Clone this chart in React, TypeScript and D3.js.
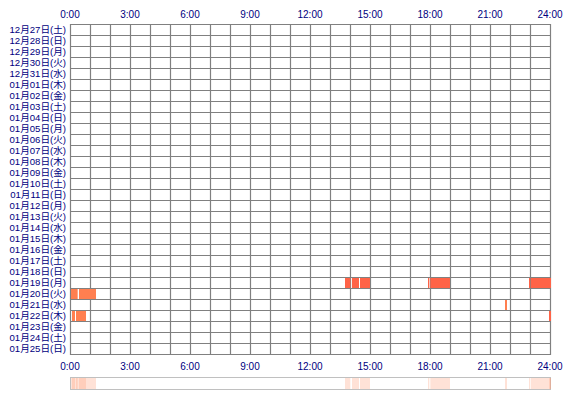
import React from "react";
import * as d3 from "d3";

const days = [
  "12月27日(土)", "12月28日(日)", "12月29日(月)", "12月30日(火)", "12月31日(水)",
  "01月01日(木)", "01月02日(金)", "01月03日(土)", "01月04日(日)", "01月05日(月)",
  "01月06日(火)", "01月07日(水)", "01月08日(木)", "01月09日(金)", "01月10日(土)",
  "01月11日(日)", "01月12日(月)", "01月13日(火)", "01月14日(水)", "01月15日(木)",
  "01月16日(金)", "01月17日(土)", "01月18日(日)", "01月19日(月)", "01月20日(火)",
  "01月21日(水)", "01月22日(木)", "01月23日(金)", "01月24日(土)", "01月25日(日)",
];

const hourTicks = [0, 3, 6, 9, 12, 15, 18, 21, 24];
const tickLabels = ["0:00", "3:00", "6:00", "9:00", "12:00", "15:00", "18:00", "21:00", "24:00"];

// sessions: day label, start, end, kind
const sessionDays = [
  "01月19日(月)", "01月19日(月)", "01月19日(月)", "01月19日(月)", "01月19日(月)",
  "01月19日(月)", "01月19日(月)",
  "01月20日(火)", "01月20日(火)",
  "01月21日(水)",
  "01月22日(木)", "01月22日(木)", "01月22日(木)",
];
const sessionStarts = [
  "13:42", "14:03", "14:27", "17:51", "17:58", "22:54", "23:00",
  "0:00", "0:24",
  "21:42",
  "0:03", "0:15", "23:54",
];
const sessionEnds = [
  "13:58", "14:24", "14:57", "17:55", "18:57", "22:58", "24:00",
  "0:20", "1:15",
  "21:48",
  "0:12", "0:45", "24:00",
];
const sessionKinds = [
  "a", "a", "a", "a", "a", "a", "a",
  "b", "b",
  "b",
  "b", "b", "a",
];

const toHours = (s: string) => {
  const [h, m] = s.split(":").map(Number);
  return h + m / 60;
};

export default function App() {
  const W = 570, H = 400;
  const left = 70, right = 550, top = 24, rowH = 11;
  const bottom = top + rowH * days.length;

  const x = d3.scaleLinear().domain([0, 24]).range([left, right]);
  const y = d3.scaleBand().domain(days).range([top, bottom]);

  const colorOf = (k: string) => (k === "a" ? "#ff6347" : "#ff7f50");
  const font = "'Liberation Sans', 'Noto Sans CJK JP', sans-serif";
  const textColor = "#000080";
  const gridColor = "#808080";

  const sessions = sessionDays.map((d, i) => ({
    day: d,
    s: toHours(sessionStarts[i]),
    e: toHours(sessionEnds[i]),
    k: sessionKinds[i],
  }));

  const hours = d3.range(0, 25);
  const stripTop = 377, stripH = 12;

  return (
    <svg width={W} height={H} style={{ position: "absolute", left: 0, top: 0, background: "#fff" }}>
      {/* top axis */}
      {hourTicks.map((h, i) => (
        <text key={"t" + h} x={x(h)} y={18} fontSize={10} fontFamily={font} fill={textColor} textAnchor="middle">
          {tickLabels[i]}
        </text>
      ))}
      {/* day labels */}
      {days.map((d) => (
        <text key={d} x={66} y={(y(d) as number) + rowH / 2 + 3.5} fontSize={9.6} fontFamily={font} fill={textColor} textAnchor="end">
          {d}
        </text>
      ))}
      {/* grid */}
      {hours.map((h) => (
        <line key={"v" + h} x1={x(h) + 0.5} x2={x(h) + 0.5} y1={top} y2={bottom + 1} stroke={gridColor} strokeWidth={1.2} />
      ))}
      {d3.range(days.length + 1).map((i) => (
        <line key={"h" + i} x1={left} x2={right + 1} y1={top + i * rowH + 0.5} y2={top + i * rowH + 0.5} stroke={gridColor} strokeWidth={1.2} />
      ))}
      {/* bars */}
      {sessions.map((s, i) => (
        <rect
          key={"b" + i}
          x={x(s.s) + 1}
          y={(y(s.day) as number) + 1}
          width={Math.max(1, x(s.e) - x(s.s))}
          height={rowH - 1}
          fill={colorOf(s.k)}
        />
      ))}
      {/* bottom axis */}
      {hourTicks.map((h, i) => (
        <text key={"bt" + h} x={x(h)} y={370} fontSize={10} fontFamily={font} fill={textColor} textAnchor="middle">
          {tickLabels[i]}
        </text>
      ))}
      {/* summary strip */}
      <rect x={left + 0.5} y={stripTop + 0.5} width={right - left} height={stripH} fill="#fff" stroke="#c0c0c0" />
      {sessions.map((s, i) => (
        <rect
          key={"st" + i}
          x={x(s.s) + 1}
          y={stripTop + 1}
          width={Math.max(1, x(s.e) - x(s.s))}
          height={stripH - 1}
          fill="#ffa07a"
          fillOpacity={0.3}
        />
      ))}
    </svg>
  );
}
